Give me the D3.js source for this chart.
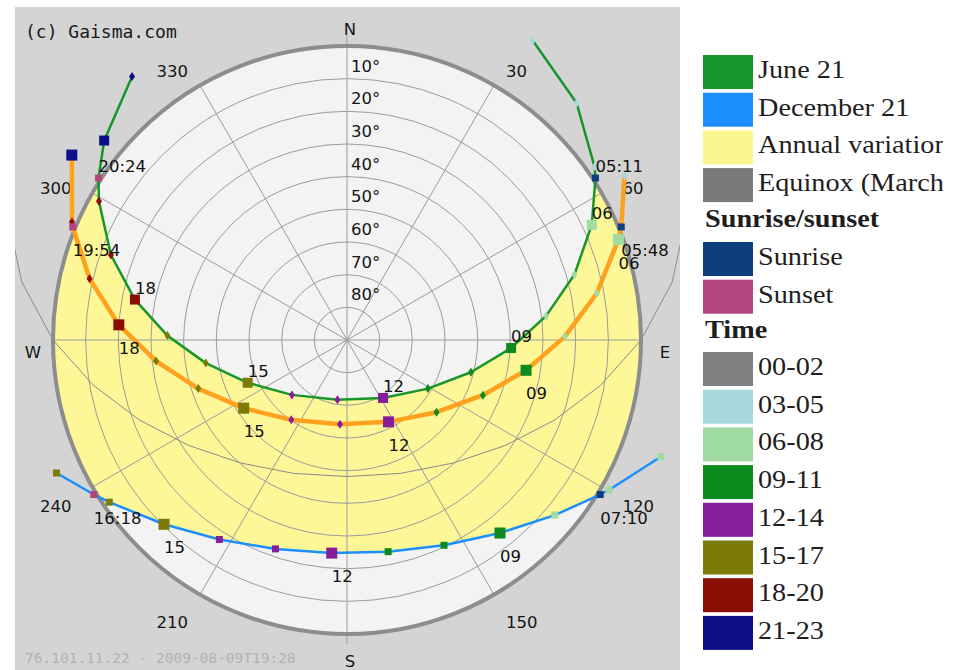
<!DOCTYPE html>
<html>
<head>
<meta charset="utf-8">
<script src="https://cdn.jsdelivr.net/npm/d3@7"></script>
<style>
  html, body { margin: 0; padding: 0; background: #ffffff; }
  svg { display: block; }
</style>
</head>
<body>
<svg id="chart" width="963" height="670"></svg>
<script>
// ---- Sun positions: [clock hour, azimuth (deg from N), altitude (deg)] ----
const june21 = [
  [3, 31.8, -17.9], [4, 44.1, -11.0], [5, 55.0, -2.5], [6, 64.8, 7.2], [7, 74.0, 17.6],
  [8, 83.1, 28.6], [9, 92.8, 39.7], [10, 104.6, 50.8], [11, 121.0, 61.1], [12, 148.1, 69.1],
  [13, 189.1, 71.5], [14, 225.1, 66.2], [15, 246.7, 56.9], [16, 260.7, 46.2], [17, 271.4, 35.0],
  [18, 280.8, 23.9], [19, 289.8, 13.2], [20, 299.2, 3.0], [21, 309.4, -6.2], [22, 320.8, -14.1]
];
const december21 = [
  [6, 110.4, -12.5], [7, 119.8, -2.4], [8, 130.1, 6.8], [9, 141.6, 14.6], [10, 154.7, 20.5],
  [11, 169.0, 24.0], [12, 184.1, 24.6], [13, 198.9, 22.4], [14, 212.6, 17.5], [15, 224.8, 10.5],
  [16, 235.7, 1.9], [17, 245.4, -7.8]
];
const today = [
  [5, 59.4, -8.7], [6, 69.7, 1.4], [7, 79.4, 12.2], [8, 89.1, 23.3], [9, 99.6, 34.4],
  [10, 112.1, 45.1], [11, 128.9, 54.8], [12, 153.1, 61.9], [13, 184.8, 64.1], [14, 214.9, 60.2],
  [15, 236.6, 52.1], [16, 251.9, 42.1], [17, 263.7, 31.2], [18, 273.8, 20.0], [19, 283.4, 9.0],
  [20, 293.2, -1.6], [21, 303.9, -11.5]
];
const equinox = [
  [4, 68.9, -21.9], [5, 79.9, -11.1], [6, 90.0, 0.0], [7, 100.1, 11.1], [8, 111.1, 21.9],
  [9, 123.7, 31.8], [10, 139.1, 40.2], [11, 158.1, 46.0], [12, 180.0, 48.2], [13, 201.9, 46.0],
  [14, 220.9, 40.2], [15, 236.3, 31.8], [16, 248.9, 21.9], [17, 259.9, 11.1], [18, 270.0, 0.0],
  [19, 280.1, -11.1], [20, 291.1, -21.9]
];

// Sunrise / sunset: [label, clock hour, azimuth, altitude]
const juneSun = [["05:11", 5.18, 56.9, -0.8], ["20:24", 20.40, 303.1, -0.8]];
const decemberSun = [["07:10", 7.17, 121.4, -0.8], ["16:18", 16.30, 238.6, -0.8]];
const todaySun = [["05:48", 5.80, 67.6, -0.8], ["19:54", 19.90, 292.4, -0.8]];

// Grid
const altitudeRings = [10, 20, 30, 40, 50, 60, 70, 80];
const azimuthLines = [0, 30, 60, 90, 120, 150, 180, 210, 240, 270, 300, 330];
const azimuthLabels = [30, 60, 120, 150, 210, 240, 300, 330];
const compass = [["N", 0], ["E", 90], ["S", 180], ["W", 270]];

// Legend
const legendSeries = ["June 21", "December 21", "Annual variation", "Equinox (March and September)"];
const legendSeriesColors = ["#17972b", "#1b8ffb", "#fbf58e", "#7a7a7a"];
const legendSun = ["Sunrise", "Sunset"];
const legendSunColors = ["#0d3f7f", "#b2457d"];
const timeBuckets = ["00-02", "03-05", "06-08", "09-11", "12-14", "15-17", "18-20", "21-23"];
const timeColors = ["#7f7f7f", "#a8d7de", "#a0dba4", "#0c8a1d", "#851e98", "#7b7b06", "#8a0e03", "#0c0f85"];

// ---- Layout ----
const cx = 347, cy = 340, R = 294;
const svg = d3.select("#chart");
const defs = svg.append("defs");
defs.append("clipPath").attr("id", "panelClip")
  .append("rect").attr("x", 15).attr("y", 7).attr("width", 665).attr("height", 663);
defs.append("clipPath").attr("id", "skyClip")
  .append("circle").attr("cx", 0).attr("cy", 0).attr("r", R);
defs.append("clipPath").attr("id", "legendClip")
  .append("rect").attr("x", 690).attr("y", 0).attr("width", 253).attr("height", 670);

const rad = d => d * Math.PI / 180;
const rScale = d3.scaleLinear().domain([90, 0]).range([0, R]);
const pt = (az, alt) => d3.pointRadial(rad(az), rScale(alt));
const radial = d3.lineRadial().angle(d => rad(d.az)).radius(d => rScale(d.alt));

const asObj = arr => arr.map(d => ({ t: d[0], az: d[1], alt: d[2] }));
const sunObj = (arr) => arr.map((d, i) => ({ label: d[0], t: d[1], az: d[2], alt: d[3], kind: i }));

const paths = [
  { name: "today", hours: asObj(today), sun: sunObj(todaySun), color: "#ffa11e", width: 4.5, below: true, small: "diamond" },
  { name: "june", hours: asObj(june21), sun: sunObj(juneSun), color: "#17972b", width: 2.5, below: false, small: "diamond" },
  { name: "december", hours: asObj(december21), sun: sunObj(decemberSun), color: "#1b8ffb", width: 2.5, below: true, small: "square" }
];
paths.forEach(p => { p.line = p.hours.concat(p.sun).sort((a, b) => a.t - b.t); });

const panel = svg.append("g").attr("clip-path", "url(#panelClip)");
panel.append("rect").attr("x", 15).attr("y", 7).attr("width", 665).attr("height", 663).attr("fill", "#d4d4d4");

const g = panel.append("g").attr("transform", `translate(${cx},${cy})`);

// sky disc
g.append("circle").attr("r", R).attr("fill", "#f3f3f3");

// annual band between the June and December paths
const junePath = paths[1].line, decPath = paths[2].line;
const ring = (from, to) => d3.range(from, to, -5).concat([to]).map(a => ({ az: a, alt: -40 }));
const band = junePath
  .concat(ring(junePath[junePath.length - 1].az, decPath[decPath.length - 1].az))
  .concat(decPath.slice().reverse())
  .concat(ring(decPath[0].az, junePath[0].az));
g.append("g").attr("clip-path", "url(#skyClip)")
  .append("path").attr("d", radial(band) + "Z").attr("fill", "#fdf797");

// grid
const grid = g.append("g").attr("stroke", "#9b9b9b").attr("stroke-width", 1).attr("fill", "none");
grid.selectAll("circle").data(altitudeRings).join("circle").attr("r", d => rScale(d));
grid.selectAll("line").data(azimuthLines).join("line")
  .attr("x1", 0).attr("y1", 0)
  .attr("x2", d => d3.pointRadial(rad(d), d % 180 === 0 ? R + 10 : R)[0])
  .attr("y2", d => d3.pointRadial(rad(d), d % 180 === 0 ? R + 10 : R)[1]);

// horizon
g.append("circle").attr("r", R).attr("fill", "none").attr("stroke", "#8d8d8d").attr("stroke-width", 4);

// altitude labels
g.append("g").selectAll("text").data(altitudeRings).join("text")
  .attr("x", 4).attr("y", d => -rScale(d) - 7)
  .attr("font-family", "DejaVu Sans").attr("font-size", 16.5).attr("fill", "#151515")
  .text(d => d + "°");

// azimuth labels
g.append("g").selectAll("text").data(azimuthLabels).join("text")
  .attr("x", d => d3.pointRadial(rad(d), 318)[0])
  .attr("y", d => d3.pointRadial(rad(d), 318)[1] + 12.5)
  .attr("text-anchor", d => d < 180 ? "start" : "end")
  .attr("font-family", "DejaVu Sans").attr("font-size", 16.5).attr("fill", "#151515")
  .text(d => d);

// compass letters
const compassPos = { N: [0, -305], S: [0, 327], E: [315, 18], W: [-317, 18] };
g.append("g").selectAll("text").data(compass).join("text")
  .attr("x", d => compassPos[d[0]][0] + 3).attr("y", d => compassPos[d[0]][1])
  .attr("text-anchor", "middle")
  .attr("font-family", "DejaVu Sans").attr("font-size", 16.5).attr("fill", "#151515")
  .text(d => d[0]);

// equinox path
g.append("path").attr("d", radial(asObj(equinox)))
  .attr("fill", "none").attr("stroke", "#8a8a8a").attr("stroke-width", 1);

// sun paths
paths.forEach(p => {
  g.append("path").attr("d", radial(p.line))
    .attr("fill", "none").attr("stroke", p.color).attr("stroke-width", p.width)
    .attr("stroke-linejoin", "round");
});

// hourly markers: large squares every third hour unless deep below the horizon
const bucketColor = h => timeColors[Math.floor(h / 3)];
paths.forEach(p => {
  const mg = g.append("g");
  p.hours.forEach(d => {
    const [x, y] = pt(d.az, d.alt);
    const big = d.t % 3 === 0 && d.alt > -12;
    if (big) {
      const s = p.name === "june" ? 10 : 11;
      mg.append("rect").attr("x", x - s / 2).attr("y", y - s / 2).attr("width", s).attr("height", s)
        .attr("fill", bucketColor(d.t));
    } else if (p.small === "square") {
      mg.append("rect").attr("x", x - 3.5).attr("y", y - 3.5).attr("width", 7).attr("height", 7)
        .attr("fill", bucketColor(d.t));
    } else {
      mg.append("path").attr("transform", `translate(${x},${y})`)
        .attr("d", "M0,-4.5L3,0L0,4.5L-3,0Z").attr("fill", bucketColor(d.t));
    }
  });
  p.sun.forEach(d => {
    const [x, y] = pt(d.az, d.alt);
    mg.append("rect").attr("x", x - 3.5).attr("y", y - 3.5).attr("width", 7).attr("height", 7)
      .attr("fill", legendSunColors[d.kind]);
  });
});

// time labels
const pad = d3.format("02d");
paths.forEach(p => {
  const lg = g.append("g").attr("font-family", "DejaVu Sans").attr("font-size", 16.5).attr("fill", "#111");
  const dy = p.below ? 29 : -6;
  p.hours.filter(d => d.t % 3 === 0 && d.alt > 0).forEach(d => {
    const [x, y] = pt(d.az, d.alt);
    lg.append("text").attr("x", x).attr("y", y + dy).text(pad(d.t));
  });
  p.sun.forEach(d => {
    const [x, y] = pt(d.az, d.alt);
    lg.append("text").attr("x", x).attr("y", y + dy).text(d.label);
  });
});

// copyright and footer
panel.append("text").attr("x", 25).attr("y", 38)
  .attr("font-family", "DejaVu Sans Mono").attr("font-size", 18).attr("fill", "#1a1a1a")
  .text("(c) Gaisma.com");
panel.append("text").attr("x", 25).attr("y", 663)
  .attr("font-family", "DejaVu Sans Mono").attr("font-size", 14.5).attr("fill", "#b2b2b2")
  .text("76.101.11.22 - 2009-08-09T19:28");

// ---- Legend ----
const legend = svg.append("g").attr("clip-path", "url(#legendClip)");
const sx = 703, sw = 50, sh = 34, step = 37.7, tx = 758;
const legendText = (x, y, txt, bold) => legend.append("text")
  .attr("transform", `translate(${x},${y}) scale(1.13,1)`)
  .attr("font-family", "Liberation Serif").attr("font-size", 25)
  .attr("font-weight", bold ? "bold" : "normal").attr("fill", "#1e1e1e").text(txt);
const legendRows = (labels, colors, top) => labels.forEach((l, i) => {
  const y = top + i * step;
  legend.append("rect").attr("x", sx).attr("y", y).attr("width", sw).attr("height", sh).attr("fill", colors[i]);
  legendText(tx, y + 23, l, false);
});
legendRows(legendSeries, legendSeriesColors, 55);
legendText(705, 227, "Sunrise/sunset", true);
legendRows(legendSun, legendSunColors, 242);
legendText(705, 338, "Time", true);
legendRows(timeBuckets, timeColors, 352);
</script>
</body>
</html>
